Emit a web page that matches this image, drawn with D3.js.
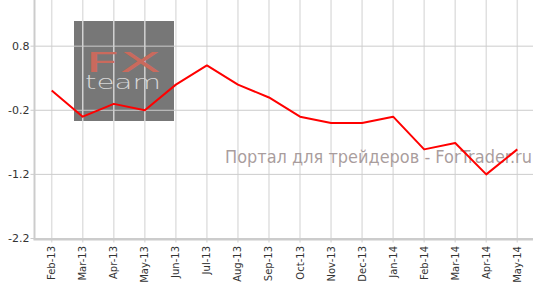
<!DOCTYPE html>
<html>
<head>
<meta charset="utf-8">
<script src="https://cdn.jsdelivr.net/npm/d3@7"></script>
<style>
  body { margin: 0; background: #fff; }
  svg { display: block; font-family: "DejaVu Sans", Verdana, sans-serif; }
</style>
</head>
<body>
<div id="chart"></div>
<script>
// ---------------------------------------------------
// DATA
// ---------------------------------------------------
const months = ["Feb-13", "Mar-13", "Apr-13", "May-13", "Jun-13", "Jul-13", "Aug-13", "Sep-13",
                "Oct-13", "Nov-13", "Dec-13", "Jan-14", "Feb-14", "Mar-14", "Apr-14", "May-14"];
const values = [0.11, -0.30, -0.10, -0.20, 0.20, 0.50, 0.20, 0.00,
                -0.30, -0.40, -0.40, -0.30, -0.81, -0.71, -1.20, -0.81];
const yTicks = [0.8, -0.2, -1.2, -2.2];
const watermark = "Портал для трейдеров - ForTrader.ru";

// ---------------------------------------------------
// DIMENSIONS
// ---------------------------------------------------
const width = 541;
const height = 290;
const plot = { left: 34.5, right: 533, top: 0, bottom: 238.5 };

const svg = d3.select("#chart")
  .append("svg")
  .attr("width", width)
  .attr("height", height);

// ---------------------------------------------------
// SCALES
// ---------------------------------------------------
const x = d3.scalePoint()
  .domain(months)
  .range([51.7, 517.3]);

const y = d3.scaleLinear()
  .domain([-2.2, 1.52])
  .range([plot.bottom, plot.top]);

// ---------------------------------------------------
// LOGO BOX (gridlines are drawn over it)
// ---------------------------------------------------
svg.append("rect")
  .attr("x", 74).attr("y", 21)
  .attr("width", 100).attr("height", 100)
  .attr("fill", "#777");

// ---------------------------------------------------
// GRIDLINES
// ---------------------------------------------------
svg.append("g")
  .selectAll("line")
  .data(months)
  .join("line")
  .attr("x1", d => x(d)).attr("x2", d => x(d))
  .attr("y1", plot.top).attr("y2", plot.bottom + 4)
  .attr("stroke", "#ddd")
  .attr("stroke-opacity", 0.9)
  .attr("stroke-width", 1.5);

svg.append("g")
  .selectAll("line")
  .data(yTicks)
  .join("line")
  .attr("x1", plot.left - 4).attr("x2", plot.right)
  .attr("y1", d => y(d)).attr("y2", d => y(d))
  .attr("stroke", "#ccc")
  .attr("stroke-width", 1);

// logo text
svg.append("text")
  .attr("x", 85).attr("y", 71.5)
  .attr("textLength", 76)
  .attr("lengthAdjust", "spacingAndGlyphs")
  .attr("font-size", 27)
  .attr("fill", "#c96a5d")
  .text("FX");

svg.append("text")
  .attr("x", 85).attr("y", 89)
  .attr("textLength", 76)
  .attr("lengthAdjust", "spacingAndGlyphs")
  .attr("font-size", 19)
  .attr("font-weight", 200)
  .attr("fill", "#d6d6d6")
  .text("team");

// ---------------------------------------------------
// AXES LINES
// ---------------------------------------------------
svg.append("line")
  .attr("x1", plot.left).attr("x2", plot.left)
  .attr("y1", plot.top).attr("y2", plot.bottom + 1)
  .attr("stroke", "#ccc")
  .attr("stroke-width", 2);

svg.append("line")
  .attr("x1", plot.left - 1).attr("x2", plot.right)
  .attr("y1", plot.bottom + 0.8).attr("y2", plot.bottom + 0.8)
  .attr("stroke", "#ccc")
  .attr("stroke-width", 2.5);

// ---------------------------------------------------
// TICK LABELS
// ---------------------------------------------------
svg.append("g")
  .selectAll("text")
  .data(yTicks)
  .join("text")
  .attr("x", 29.5)
  .attr("y", d => y(d))
  .attr("dy", "0.35em")
  .attr("text-anchor", "end")
  .attr("font-size", 11)
  .attr("fill", "#333")
  .text(d => d3.format(".1f")(d).replace("−", "-"));

svg.append("g")
  .selectAll("text")
  .data(months)
  .join("text")
  .attr("transform", d => `translate(${x(d)},246) rotate(-90)`)
  .attr("dy", "0.35em")
  .attr("text-anchor", "end")
  .attr("font-size", 10)
  .attr("fill", "#333")
  .text(d => d);

// ---------------------------------------------------
// WATERMARK
// ---------------------------------------------------
svg.append("text")
  .attr("x", 225).attr("y", 162.5)
  .attr("textLength", 307)
  .attr("lengthAdjust", "spacingAndGlyphs")
  .attr("font-size", 17)
  .attr("fill", "#9a8c8c")
  .attr("fill-opacity", 0.85)
  .text(watermark);

// ---------------------------------------------------
// LINE
// ---------------------------------------------------
const line = d3.line()
  .x((d, i) => x(months[i]))
  .y(d => y(d));

svg.append("path")
  .datum(values)
  .attr("fill", "none")
  .attr("stroke", "#ff0000")
  .attr("stroke-width", 2)
  .attr("stroke-linejoin", "round")
  .attr("d", line);
</script>
</body>
</html>
